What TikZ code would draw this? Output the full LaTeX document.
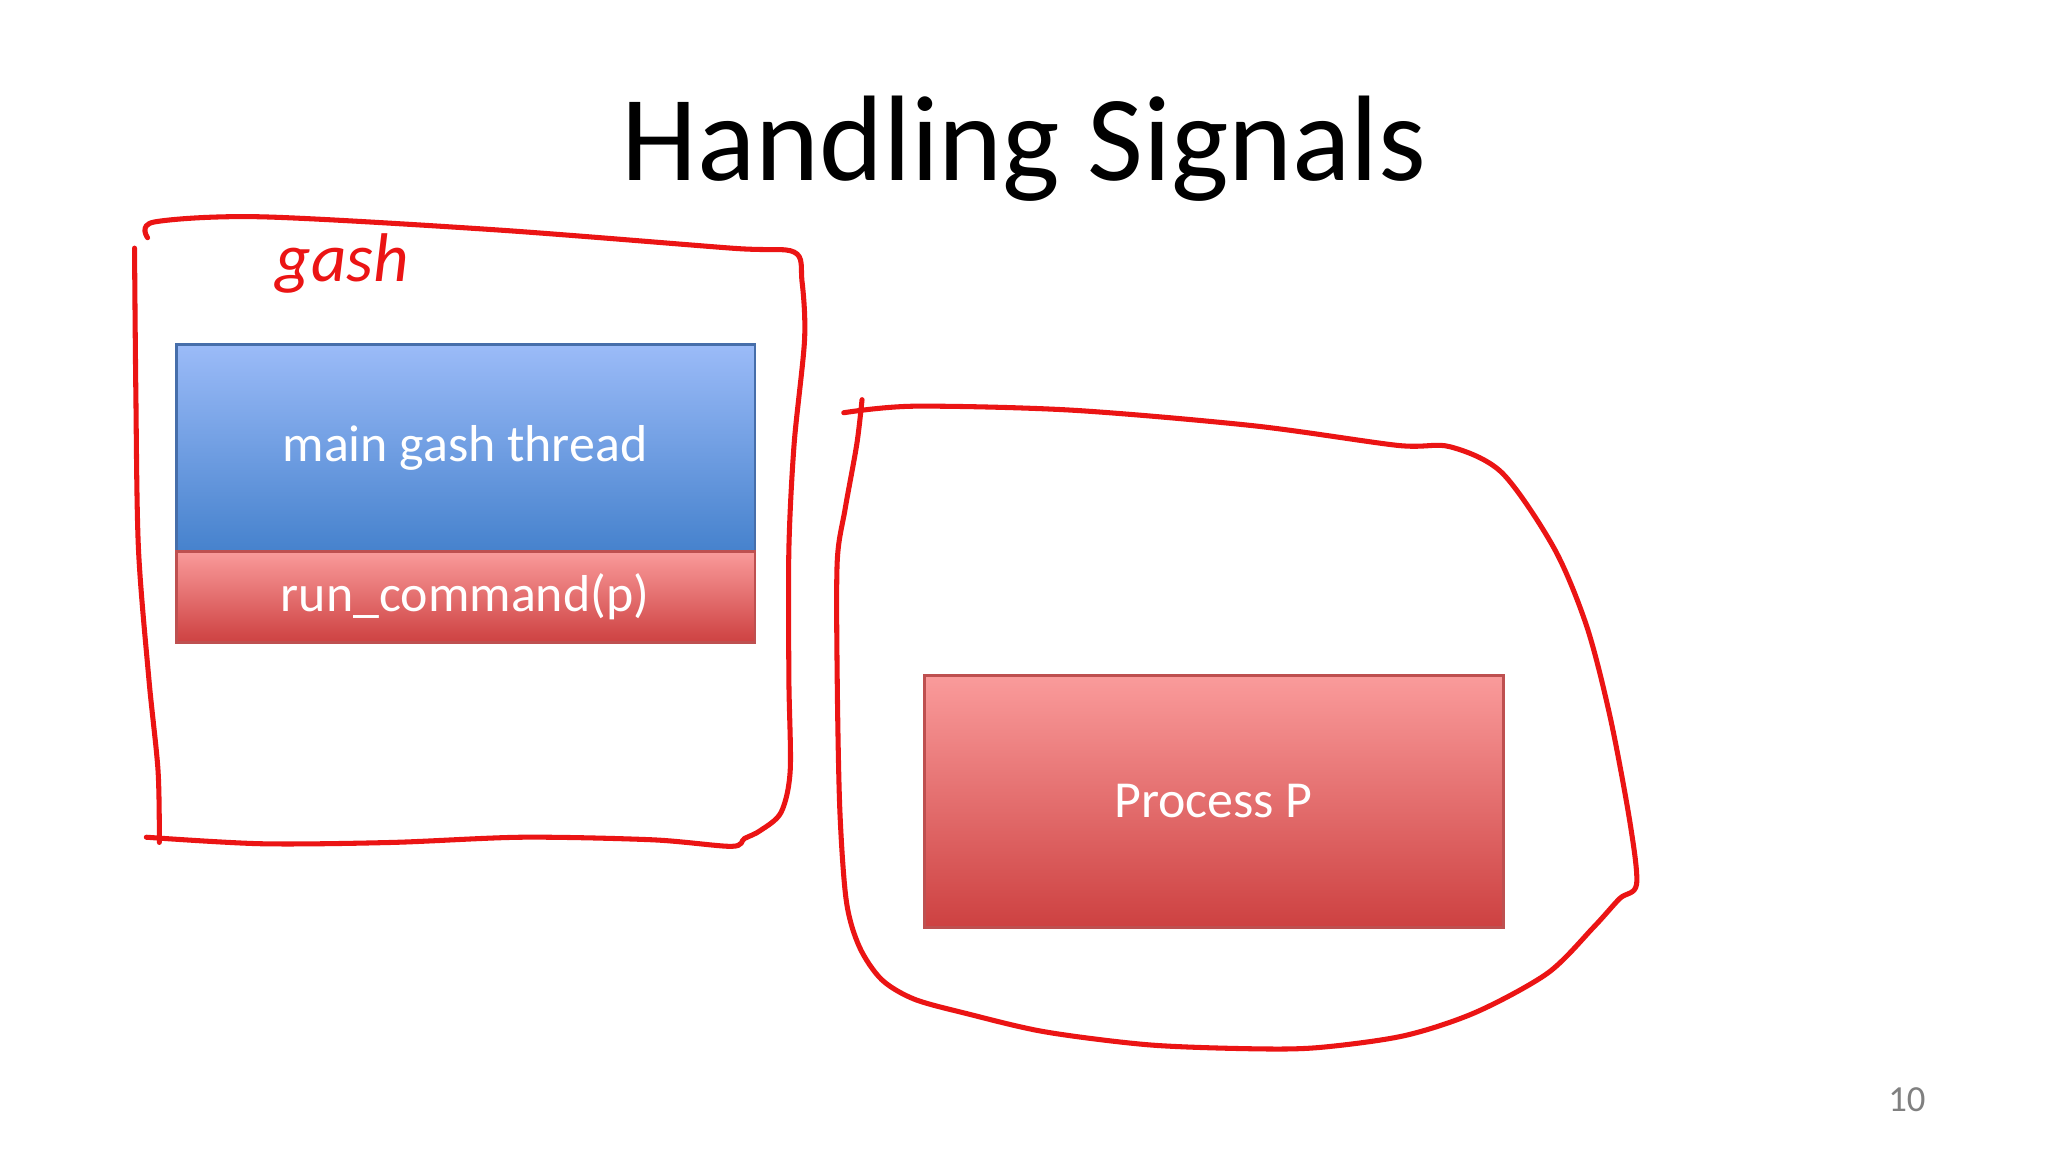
\documentclass[tikz,border=0pt]{standalone}
\usepackage{fontspec}
\setmainfont{Carlito}
\definecolor{btop}{RGB}{155,187,248}
\definecolor{bbot}{RGB}{70,130,205}
\definecolor{bline}{RGB}{70,110,170}
\definecolor{rtop}{RGB}{250,155,155}
\definecolor{rbot}{RGB}{205,65,65}
\definecolor{rline}{RGB}{190,80,80}
\definecolor{inkred}{RGB}{235,20,20}
\begin{document}
\begin{tikzpicture}[x=0.01cm,y=-0.01cm,
  ink/.style={draw=inkred,line width=1.1pt,line cap=round,line join=round},
  lbl/.style={text=white,font=\fontsize{11.3}{13}\selectfont}]
\fill[white] (0,0) rectangle (1568,882);
\node (title) at (784,114) {\fontsize{26.5}{30}\selectfont Handling Signals};
\shade[top color=btop,bottom color=bbot] (135,264) rectangle (578,422);
\draw[bline,line width=0.6pt] (135,264) rectangle (578,422);
\node[lbl] (mainthr) at (356,343) {main gash thread};
\shade[top color=rtop,bottom color=rbot] (135,422) rectangle (578,492);
\draw[rline,line width=0.6pt] (135,422) rectangle (578,492);
\node[lbl] (runcmd) at (356,457) {run\_command(p)};
\shade[top color=rtop,bottom color=rbot] (708,517) rectangle (1151,710);
\draw[rline,line width=0.6pt] (708,517) rectangle (1151,710);
\node[lbl] (procp) at (929,613) {Process P};
\node[text=gray] (pnum) at (1460,842) {\fontsize{8}{10}\selectfont 10};
\node[text=inkred,font=\fontsize{15}{16}\selectfont\itshape] (gash) at (262,202) {gash};
\draw[ink] plot[smooth] coordinates {(113,182) (118,170) (200,166) (380,176) (560,190) (608,193) (614,215) (616,260) (608,340) (604,420) (604,520) (605,590) (598,622) (582,636) (570,642) (560,648) (500,643) (400,641) (300,645) (200,646) (112,641)};
\draw[ink] plot[smooth] coordinates {(103,190) (104,300) (106,420) (114,520) (121,590) (122,645)};
\draw[ink] plot[smooth] coordinates {(646,316) (700,311) (820,314) (960,326) (1070,341) (1110,342) (1150,362) (1190,420) (1215,480) (1233,550) (1248,630) (1253,677) (1240,688) (1220,710) (1185,745) (1130,775) (1075,793) (1010,802) (960,803) (880,800) (800,790) (740,776) (700,765) (675,750) (658,725) (648,690) (643,620) (641,520) (641,430) (647,390) (656,340) (660,306)};
\end{tikzpicture}
\end{document}
